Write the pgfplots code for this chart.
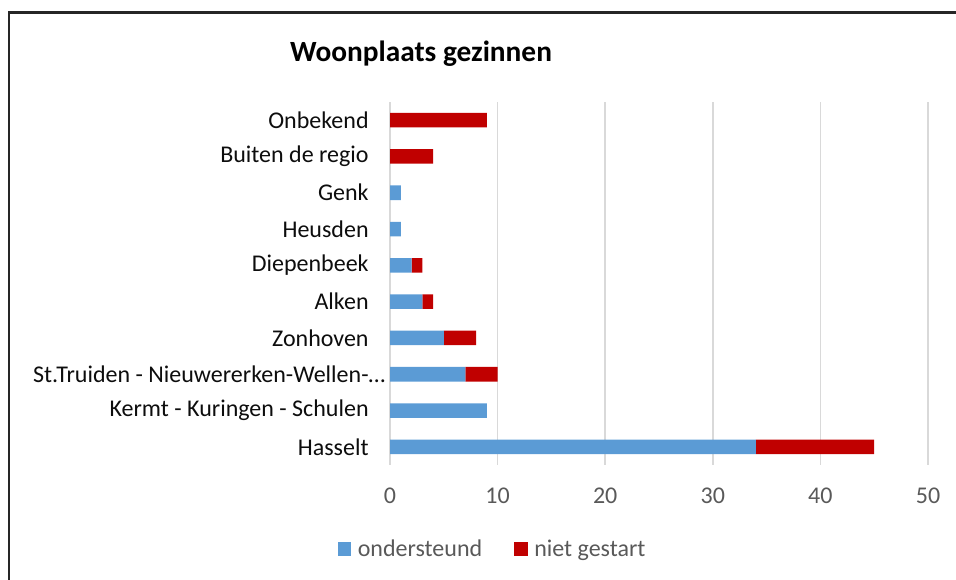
\documentclass[border=0pt]{standalone}
\usepackage{fontspec}
\setmainfont{Carlito}
\usepackage{pgfplots}
\pgfplotsset{compat=1.18}
\definecolor{barblue}{HTML}{5B9BD5}
\definecolor{barred}{HTML}{C00000}
\definecolor{gridgray}{HTML}{D9D9D9}
\definecolor{txtgray}{HTML}{595959}
\definecolor{txtdark}{HTML}{0D0D0D}
\begin{document}
\begin{tikzpicture}
  \useasboundingbox (0,0) rectangle (717pt,435pt);
  % frame of the chart area (right and bottom lie outside the picture)
  \draw[line width=2.2pt, black!85] (6.75pt,0pt) -- (6.75pt,425.6pt) -- (717pt,425.6pt);
  \node[font=\fontsize{22}{26}\selectfont\bfseries, text=black] at (315.75pt,394.5pt) {Woonplaats gezinnen};
  \begin{axis}[
    at={(292.5pt,86.25pt)}, anchor=south west,
    scale only axis,
    width=403.5pt, height=272.25pt,
    xbar stacked,
    bar width=10.9pt,
    xmin=0, xmax=50,
    ymin=-0.5, ymax=9.5,
    xtick={0,10,...,50},
    ytick={0,...,9},
    yticklabels={Hasselt, Kermt - Kuringen - Schulen, St.Truiden - Nieuwererken-Wellen-\rlap{…}, Zonhoven\hspace{0.3em}, Alken, Diepenbeek, Heusden, Genk, Buiten de regio, Onbekend},
    axis line style={draw=none},
    major tick length=0pt,
    xmajorgrids,
    grid style={gridgray, line width=1.2pt},
    /pgf/number format/assume math mode=true,
    xticklabel style={font=\fontsize{18}{21}\selectfont, text=txtgray, yshift=-14pt},
    yticklabel style={font=\fontsize{18}{21}\selectfont, text=txtdark, xshift=-12.5pt},
    legend style={at={(0.1914,-0.2314)}, anchor=center, draw=none, fill=none,
      legend columns=2, font=\fontsize{18}{21}\selectfont, text=txtgray,
      /tikz/every even column/.append style={column sep=22pt}},
    legend cell align=left,
    legend image code/.code={\fill[#1] (0pt,-5pt) rectangle (10pt,5pt); \path (13pt,0pt);},
  ]
    \addplot[fill=barblue, draw=none] coordinates {
      (34,0) (9,1) (7,2) (5,3) (3,4) (2,5) (1,6) (1,7) (0,8) (0,9)
    };
    \addlegendentry{ondersteund}
    \addplot[fill=barred, draw=none] coordinates {
      (11,0) (0,1) (3,2) (3,3) (1,4) (1,5) (0,6) (0,7) (4,8) (9,9)
    };
    \addlegendentry{niet gestart}
  \end{axis}
\end{tikzpicture}
\end{document}
